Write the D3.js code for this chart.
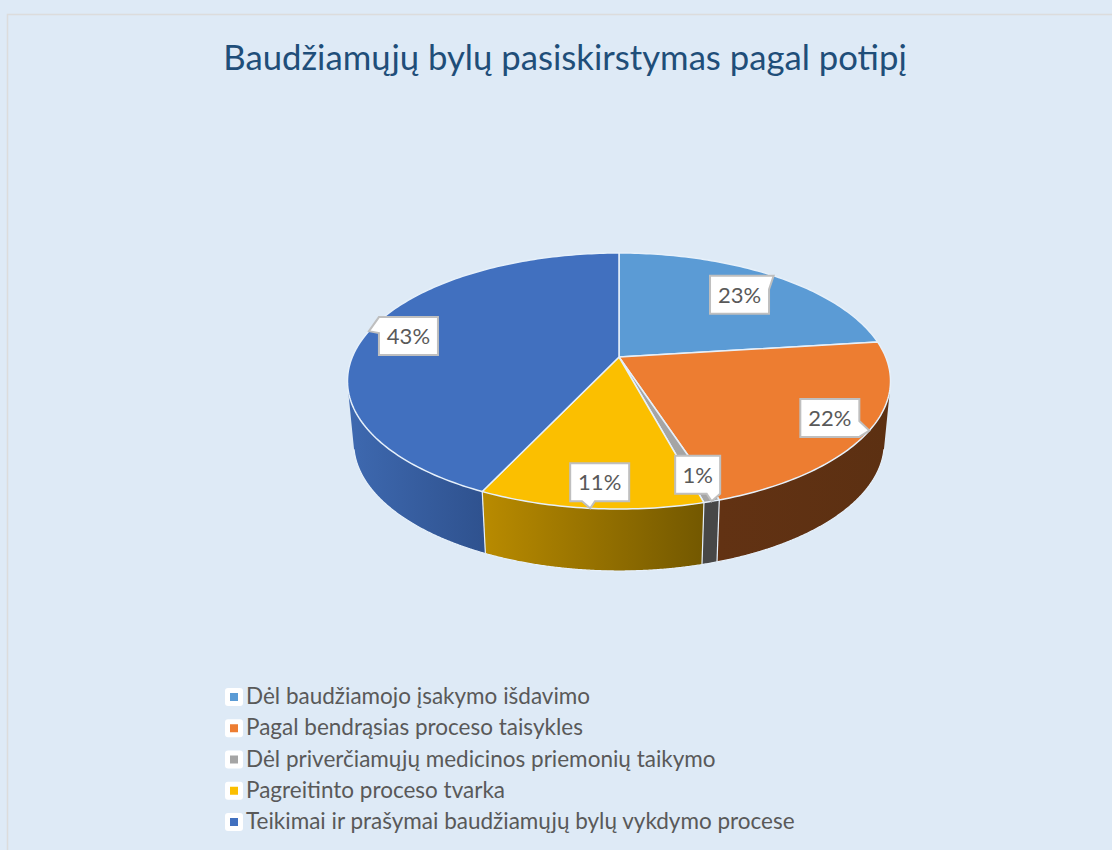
<!DOCTYPE html>
<html><head><meta charset="utf-8">
<script src="https://cdn.jsdelivr.net/npm/d3@7/dist/d3.min.js"></script>
<style>html,body{margin:0;padding:0;background:#deeaf6;overflow:hidden}svg{display:block}text{font-family:Lato,"Noto Sans",sans-serif}</style>
</head><body><div id="chart"></div>
<script>
const titleText = "Baudžiamųjų bylų pasiskirstymas pagal potipį";
const categories = ["Dėl baudžiamojo įsakymo išdavimo","Pagal bendrąsias proceso taisykles","Dėl priverčiamųjų medicinos priemonių taikymo","Pagreitinto proceso tvarka","Teikimai ir prašymai baudžiamųjų bylų vykdymo procese"];
const shares = [23,22,0.8,11.2,43];

const topColors = ["#5b9bd5","#ed7d31","#a5a5a5","#fbbf00","#4170bf"];
const sideLeft  = ["#3d6f9e","#623213","#474747","#b98b00","#3e69b0"];
const sideRight = ["#30587e","#5c3012","#474747","#735800","#2f528f"];
const labelLayout = [
  {dx:-63.6,dy:0,w:59,side:"right",a:0,b:.36},
  {dx:-69,dy:-31.6,w:59,side:"right",a:.58,b:1},
  {dx:-36.5,dy:-45.6,w:45,side:"bottom",a:.7,b:1},
  {dx:-20,dy:-45,w:59,side:"bottom",a:.2,b:.42},
  {dx:10,dy:-14,w:59,side:"left",a:0,b:.42}
];

const W=1112,H=850,BG="#deeaf6",EDGE="#e6f0fa";
const svg=d3.select("#chart").append("svg").attr("width",W).attr("height",H);
svg.append("rect").attr("width",W).attr("height",H).attr("fill",BG);
svg.append("path").attr("d",`M7.5,${H}V14.5H${W}`).attr("fill","none").attr("stroke","#dcdcdc").attr("stroke-width",1.5);
svg.append("text").attr("x",565).attr("y",70).attr("text-anchor","middle").attr("font-size",34.7).attr("fill","#1f4e79").text(titleText);

// Perspective disk: rim angle -> screen
const cx=619,cy=357,p=0.1875,a=123.5,c=266.7,depth=62,shrink=.977;
const project=t=>{const X=Math.sin(t),Y=-Math.cos(t),w=1-p*Y;return [cx+c*X/w,cy+a*Y/w];};
const lower=([x,y])=>[cx+shrink*(x-cx),y+depth];
const line=d3.line();
const rad=d3.scaleLinear().domain([0,180]).range([0,Math.PI]);
const samples=(t0,t1,step=1)=>{const n=Math.max(2,Math.ceil((t1-t0)/rad(step)));return d3.range(n+1).map(i=>t0+(t1-t0)*i/n);};
// wall faces the viewer when its rim tangent turns against the extrusion
const facing=t=>{const A=project(t),B=project(t+.002),E=lower(A);return (B[0]-A[0])*(E[1]-A[1])-(B[1]-A[1])*(E[0]-A[0])<0;};

const arcs=d3.pie().sort(null).value(d=>d).startAngle(0).endAngle(2*Math.PI)(shares);
const defs=svg.append("defs");

// side walls
const sides=svg.append("g");
const edges=svg.append("g").attr("fill","none").attr("stroke",EDGE).attr("stroke-width",1.2);
arcs.forEach((d,i)=>{
  const ts=samples(d.startAngle,d.endAngle,.25).filter(facing);
  if(ts.length<2) return;
  const rim=ts.map(project),base=rim.map(lower),xs=rim.map(q=>q[0]);
  const g=defs.append("linearGradient").attr("id","s"+i).attr("gradientUnits","userSpaceOnUse")
    .attr("x1",d3.min(xs)).attr("x2",d3.max(xs)).attr("y1",0).attr("y2",0);
  g.append("stop").attr("offset",0).attr("stop-color",sideLeft[i]);
  g.append("stop").attr("offset",1).attr("stop-color",sideRight[i]);
  sides.append("path").attr("d",line([...rim,...base.slice().reverse()])+"Z").attr("fill",`url(#s${i})`);
  edges.append("path").attr("d",line(base));
  if(facing(d.endAngle)){const A=project(d.endAngle);edges.append("path").attr("d",line([A,lower(A)]));}
});
// top face
svg.append("g").selectAll("path").data(arcs).join("path")
  .attr("d",d=>line([[cx,cy],...samples(d.startAngle,d.endAngle).map(project)])+"Z")
  .attr("fill",(d,i)=>topColors[i]).attr("stroke",EDGE).attr("stroke-width",1.5).attr("stroke-linejoin","round");

// callouts
const h=38;
const labels=svg.append("g").selectAll("g").data(arcs).join("g");
labels.each(function(d,i){
  const L=labelLayout[i],tip=project((d.startAngle+d.endAngle)/2);
  const x0=tip[0]+L.dx,y0=tip[1]+L.dy,x1=x0+L.w,y1=y0+h;
  const pts=[[x0,y0]];
  if(L.side==="right") pts.push([x1,y0],[x1,y0+h*L.a],tip,[x1,y0+h*L.b],[x1,y1],[x0,y1]);
  else if(L.side==="bottom") pts.push([x1,y0],[x1,y1],[x0+L.w*L.b,y1],tip,[x0+L.w*L.a,y1],[x0,y1]);
  else pts.push([x1,y0],[x1,y1],[x0,y1],[x0,y0+h*L.b],tip,[x0,y0+h*L.a]);
  const s=d3.select(this);
  s.append("path").attr("d",line(pts)+"Z").attr("fill","#fff").attr("stroke","#bfbfbf").attr("stroke-width",2);
  s.append("text").attr("x",(x0+x1)/2).attr("y",y0+27).attr("text-anchor","middle").attr("font-size",22).attr("fill","#595959").text(Math.round(d.data)+"%");
});

// legend
const ly=d3.scalePoint().domain(categories).range([697,822]);
const rows=svg.append("g").selectAll("g").data(categories).join("g").attr("transform",d=>`translate(225,${ly(d)})`);
rows.append("rect").attr("x",0).attr("y",-9).attr("width",18).attr("height",18).attr("rx",3).attr("fill","#fff");
rows.append("rect").attr("x",5).attr("y",-4).attr("width",8).attr("height",8).attr("fill",(d,i)=>topColors[i]);
rows.append("text").attr("x",21).attr("y",7).attr("font-size",22.5).attr("fill","#595959").text(d=>d);
</script></body></html>
